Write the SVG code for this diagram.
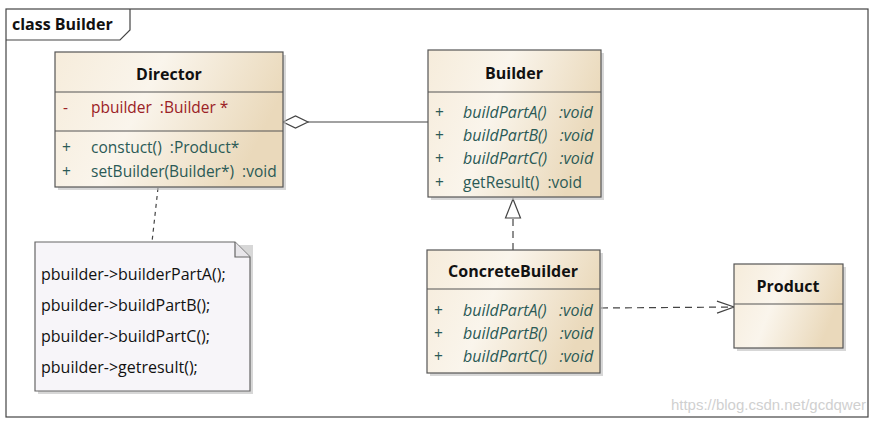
<svg xmlns="http://www.w3.org/2000/svg" width="878" height="424" viewBox="0 0 878 424">
<defs>
<linearGradient id="cls" x1="0" y1="0" x2="1" y2="0.3">
<stop offset="0" stop-color="#f6ecdb"/>
<stop offset="0.45" stop-color="#faf5ec"/>
<stop offset="1" stop-color="#ead9bb"/>
</linearGradient>
<marker id="open" markerWidth="20" markerHeight="14" refX="18" refY="7" orient="auto" markerUnits="userSpaceOnUse">
<path d="M1,1 L18,7 L1,13" fill="none" stroke="#444" stroke-width="1.2"/>
</marker>
</defs>
<style>
text{white-space:pre}
.box{fill:url(#cls);stroke:#555;stroke-width:1.2}
.shadow{fill:#bdbdbd;opacity:0.6}
.div{stroke:#555;stroke-width:1.2}
.title{font-family:"Open Sans","Noto Sans",sans-serif;font-weight:bold;font-size:16px;fill:#111;text-anchor:middle}
.attr{font-family:"Open Sans","Noto Sans",sans-serif;font-size:15.5px;fill:#9b2226}
.meth{font-family:"Open Sans","Noto Sans",sans-serif;font-size:15.5px;fill:#2b5a56}
.abs{font-style:italic;font-size:16px}
.note{font-family:"Open Sans","Noto Sans",sans-serif;font-size:16px;fill:#111}
.conn{fill:none;stroke:#444;stroke-width:1.2}
</style>
<rect x="0" y="0" width="878" height="424" fill="#ffffff"/>
<g id="frame">
<rect x="6" y="9" width="862" height="408" fill="none" stroke="#444" stroke-width="1.2"/>
<path d="M6,40 L120,40 L130,30 L130,9" fill="none" stroke="#444" stroke-width="1.2"/>
<text x="12" y="30" font-family="Open Sans,Noto Sans,sans-serif" font-weight="bold" font-size="16" fill="#111">class Builder</text>
</g>
<g id="connectors">
<line x1="158" y1="188" x2="152" y2="242" class="conn" stroke-dasharray="4,4"/>
<line x1="308" y1="122" x2="428" y2="122" class="conn"/>
<path d="M283,122 L295.5,116 L308,122 L295.5,128 Z" fill="#fff" stroke="#444" stroke-width="1.2"/>
<line x1="513" y1="250" x2="513" y2="218" class="conn" stroke-dasharray="7,5"/>
<path d="M513,199 L520.5,218 L505.5,218 Z" fill="#fff" stroke="#444" stroke-width="1.2"/>
<line x1="601" y1="308" x2="734" y2="307" class="conn" stroke-dasharray="7,5" marker-end="url(#open)"/>
</g>
<g id="Director">
<rect x="58" y="55" width="228" height="135" class="shadow"/>
<rect x="55" y="52" width="228" height="135" class="box"/>
<line x1="55" y1="92" x2="283" y2="92" class="div"/>
<line x1="55" y1="131" x2="283" y2="131" class="div"/>
<text x="169" y="80" class="title">Director</text>
<text x="63" y="113" class="attr">-</text>
<text x="91" y="113" class="attr">pbuilder  :Builder *</text>
<text x="62" y="153" class="meth">+</text>
<text x="91" y="153" class="meth">constuct()  :Product*</text>
<text x="62" y="177" class="meth">+</text>
<text x="91" y="177" class="meth">setBuilder(Builder*)  :void</text>
</g>
<g id="Builder">
<rect x="431" y="53" width="173" height="147" class="shadow"/>
<rect x="428" y="50" width="173" height="147" class="box"/>
<line x1="428" y1="92" x2="601" y2="92" class="div"/>
<text x="514" y="79" class="title">Builder</text>
<text x="435" y="118" class="meth">+</text>
<text x="463" y="118" class="meth abs">buildPartA()   :void</text>
<text x="435" y="141" class="meth">+</text>
<text x="463" y="141" class="meth abs">buildPartB()   :void</text>
<text x="435" y="164" class="meth">+</text>
<text x="463" y="164" class="meth abs">buildPartC()   :void</text>
<text x="435" y="188" class="meth">+</text>
<text x="463" y="188" class="meth">getResult()  :void</text>
</g>
<g id="ConcreteBuilder">
<rect x="430" y="253" width="173" height="123" class="shadow"/>
<rect x="427" y="250" width="173" height="123" class="box"/>
<line x1="427" y1="289" x2="600" y2="289" class="div"/>
<text x="513" y="277" class="title">ConcreteBuilder</text>
<text x="434" y="316" class="meth">+</text>
<text x="463" y="316" class="meth abs">buildPartA()   :void</text>
<text x="434" y="339" class="meth">+</text>
<text x="463" y="339" class="meth abs">buildPartB()   :void</text>
<text x="434" y="362" class="meth">+</text>
<text x="463" y="362" class="meth abs">buildPartC()   :void</text>
</g>
<g id="Product">
<rect x="737" y="267" width="109" height="84" class="shadow"/>
<rect x="734" y="264" width="109" height="84" class="box"/>
<line x1="734" y1="304" x2="843" y2="304" class="div"/>
<text x="788" y="292" class="title">Product</text>
</g>
<g id="Note">
<path d="M38,245 L253,245 L253,394 L38,394 Z" class="shadow"/>
<path d="M35,242 L235,242 L250,257 L250,391 L35,391 Z" fill="#f7f5f9" stroke="#666" stroke-width="1.2"/>
<path d="M235,242 L235,257 L250,257" fill="#e8e6ea" stroke="#666" stroke-width="1.2"/>
<text x="41" y="280" class="note">pbuilder-&gt;builderPartA();</text>
<text x="41" y="311" class="note">pbuilder-&gt;buildPartB();</text>
<text x="41" y="342" class="note">pbuilder-&gt;buildPartC();</text>
<text x="41" y="373" class="note">pbuilder-&gt;getresult();</text>
</g>
<text x="866" y="410" text-anchor="end" font-family="Liberation Sans,Arial,sans-serif" font-size="15" fill="#d0d0d0">https://blog.csdn.net/gcdqwer</text>
</svg>
